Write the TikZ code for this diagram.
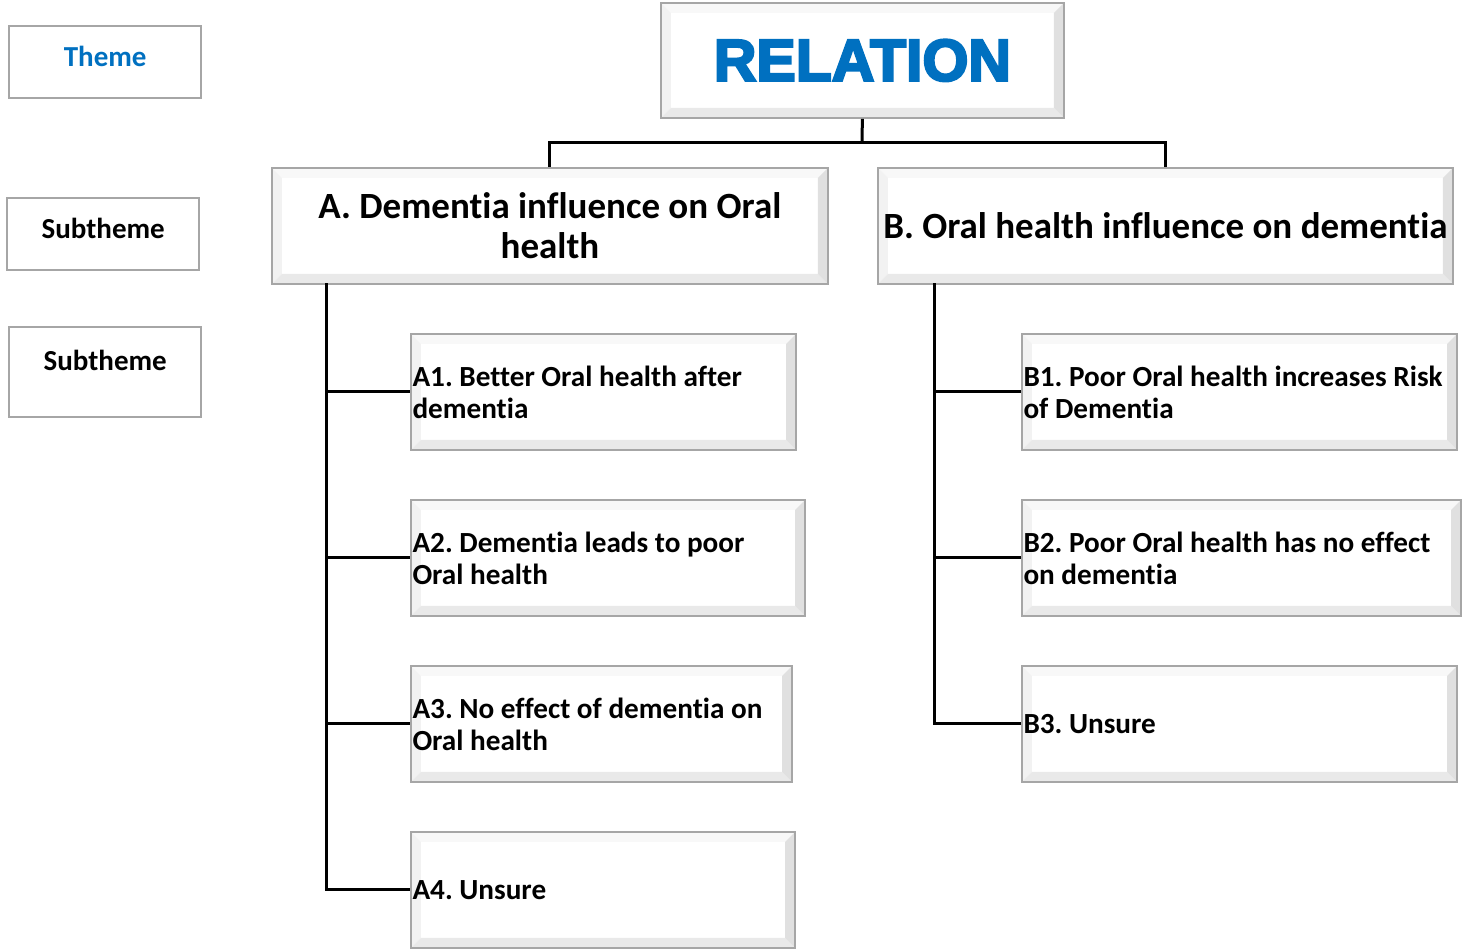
\documentclass[tikz,border=0pt]{standalone}
\usepackage{fontspec}
\setmainfont{Carlito}[Ligatures=NoCommon]
\newfontfamily\relfont[BoldFeatures={FakeBold=4}]{Liberation Sans}
\usepackage{tikz}
\usetikzlibrary{positioning}
\definecolor{cTheme}{HTML}{0070C0}
\definecolor{cEdge}{HTML}{A6A6A6}
\definecolor{cBevTop}{HTML}{F8F8F8}
\definecolor{cBevLeft}{HTML}{F2F2F2}
\definecolor{cBevBot}{HTML}{E9E9E9}
\definecolor{cBevRight}{HTML}{E0E0E0}
\tikzset{
  bevel/.style={draw=cEdge, line width=0.9pt, fill=white, anchor=north west,
                inner sep=1.5pt,
                path picture={
                  \coordinate (pnw) at (path picture bounding box.north west);
                  \coordinate (pne) at (path picture bounding box.north east);
                  \coordinate (psw) at (path picture bounding box.south west);
                  \coordinate (pse) at (path picture bounding box.south east);
                  \coordinate (inw) at ([shift={(5pt,-5pt)}]pnw);
                  \coordinate (ine) at ([shift={(-5pt,-5pt)}]pne);
                  \coordinate (isw) at ([shift={(5pt,5pt)}]psw);
                  \coordinate (ise) at ([shift={(-5pt,5pt)}]pse);
                  \fill[cBevTop] (pnw) -- (pne) -- (ine) -- (inw) -- cycle;
                  \fill[cBevLeft] (pnw) -- (psw) -- (isw) -- (inw) -- cycle;
                  \fill[cBevBot] (psw) -- (pse) -- (ise) -- (isw) -- cycle;
                  \fill[cBevRight] (pne) -- (pse) -- (ise) -- (ine) -- cycle;
                }},
  keybox/.style={draw=cEdge, line width=1.2pt, anchor=north west, inner sep=0pt,
                 text height=8pt, text depth=4pt,
                 font=\bfseries\fontsize{14.5}{16}\selectfont},
  branch/.style={bevel, align=center, font=\bfseries\fontsize{18.5}{20}\selectfont},
  leaf/.style={bevel, align=flush left, minimum height=58pt, inner xsep=0.8pt,
               font=\bfseries\frenchspacing\fontsize{14.6}{16}\selectfont},
  tree/.style={line width=1.5pt, black},
}

\begin{document}
\begin{tikzpicture}[x=0.5pt, y=-0.5pt]
\useasboundingbox (0,0) rectangle (1463,949);

% ========== KEY ==========
\node[keybox, minimum width=96pt, minimum height=36pt, text=cTheme] (theme) at (8,25) {Theme};
\node[keybox, minimum width=96pt, minimum height=36pt] (subA) at (6,197) {Subtheme};
\node[keybox, minimum width=96pt, minimum height=45pt] (subB) at (8,326) {};
\node[font=\bfseries\fontsize{14.5}{16}\selectfont, below=8.5pt of subB.north] (subBtxt) {Subtheme};

% ========== THEME ==========
\node[bevel, minimum width=201.5pt, minimum height=57.5pt, text=cTheme,
      font=\relfont\bfseries\fontsize{29.5}{32}\selectfont] (rel) at (660,2) {RELATION};

% ========== SUBTHEMES ==========
\node[branch, minimum width=278pt, minimum height=58pt] (A) at (271,167)
  {A. Dementia influence on Oral\\health};
\node[branch, minimum width=287.5pt, minimum height=58pt] (B) at (877,167)
  {B. Oral health influence on dementia};

% ========== CODES ==========
\node[leaf, minimum width=192.5pt, text width=191pt] (A1) at (410,333)
  {A1. Better Oral health after\\dementia};
\node[leaf, minimum width=197pt, text width=195.5pt] (A2) at (410,499)
  {A2. Dementia leads to poor\\Oral health};
\node[leaf, minimum width=190.5pt, text width=189pt] (A3) at (410,665)
  {A3. No effect of dementia on\\Oral health};
\node[leaf, minimum width=192pt, text width=190.5pt] (A4) at (410,831)
  {A4. Unsure};
\node[leaf, minimum width=217.5pt, text width=216pt] (B1) at (1021,333)
  {B1. Poor Oral health increases Risk\\of Dementia};
\node[leaf, minimum width=219.5pt, text width=218pt] (B2) at (1021,499)
  {B2. Poor Oral health has no effect\\on dementia};
\node[leaf, minimum width=217.5pt, text width=216pt] (B3) at (1021,665)
  {B3. Unsure};

% ========== CONNECTORS ==========
\coordinate (fork) at (862,142);
\draw[tree] (rel.south) -- (fork);
\draw[tree] (A.north) |- (fork) -| (B.north);

\coordinate (Aspine) at (326,283);
\draw[tree] (Aspine) |- (A4.west);
\foreach \c in {A1,A2,A3}
  \draw[tree] (Aspine |- \c.west) -- (\c.west);

\coordinate (Bspine) at (934,283);
\draw[tree] (Bspine) |- (B3.west);
\foreach \c in {B1,B2}
  \draw[tree] (Bspine |- \c.west) -- (\c.west);

\end{tikzpicture}
\end{document}
